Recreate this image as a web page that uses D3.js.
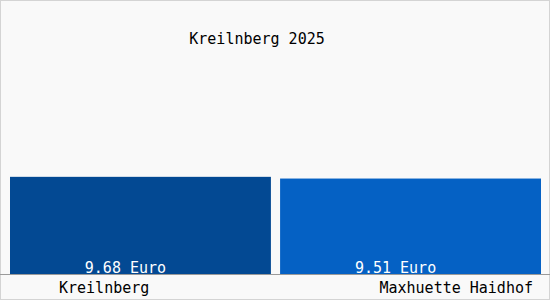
<!DOCTYPE html>
<html>
<head>
<meta charset="utf-8">
<script src="https://cdn.jsdelivr.net/npm/d3@7"></script>
<style>
  body { margin: 0; background: #fff; }
  text { font-family: "DejaVu Sans Mono", monospace; font-size: 15px; }
</style>
</head>
<body>
<div id="chart"></div>
<script>
// Chart data
var categories = ["Kreilnberg", "Maxhuette Haidhof"];
var values = [9.68, 9.51];
var valueLabels = ["9.68 Euro", "9.51 Euro"];
var title = "Kreilnberg 2025";
var colors = ["#034993", "#0561c4"];

var width = 550, height = 300;
var baseY = 274;

var svg = d3.select("#chart").append("svg")
	.attr("width", width).attr("height", height);

// Background and frame
svg.append("rect")
	.attr("x", 0.5).attr("y", 0.5)
	.attr("width", width - 1).attr("height", height - 1)
	.attr("fill", "#f9f9f9").attr("stroke", "#d4d4d4");

var x = d3.scaleBand().domain(categories).range([10, 541]).paddingInner(0.034);
var y = d3.scaleLinear().domain([0, 26.6]).range([baseY, 7]);

// Bars
svg.selectAll("rect.bar").data(values)
	.enter().append("rect")
	.attr("class", "bar")
	.attr("x", function(d, i){ return x(categories[i]); })
	.attr("y", function(d){ return y(d); })
	.attr("width", x.bandwidth())
	.attr("height", function(d){ return baseY - y(d); })
	.attr("fill", function(d, i){ return colors[i]; });

// Baseline
svg.append("line")
	.attr("x1", 0).attr("x2", width)
	.attr("y1", baseY + 0.5).attr("y2", baseY + 0.5)
	.attr("stroke", "#9a9a9a");

// Values inside the bars
svg.selectAll("text.val").data(valueLabels)
	.enter().append("text")
	.attr("class", "val")
	.attr("x", function(d, i){ return x(categories[i]) + x.bandwidth() / 2 - 15; })
	.attr("y", baseY - 1)
	.attr("text-anchor", "middle")
	.attr("fill", "#ffffff")
	.text(String);

// Category names under the axis
svg.selectAll("text.cat").data(categories)
	.enter().append("text")
	.attr("class", "cat")
	.attr("x", function(d, i){ return i == 0 ? x.range()[0] + 49 : x.range()[1] - 8; })
	.attr("y", 293)
	.attr("text-anchor", function(d, i){ return i == 0 ? "start" : "end"; })
	.attr("fill", "#000")
	.text(String);

// Title
svg.append("text")
	.attr("x", 257).attr("y", 44)
	.attr("text-anchor", "middle")
	.attr("fill", "#000")
	.text(title);
</script>
</body>
</html>
